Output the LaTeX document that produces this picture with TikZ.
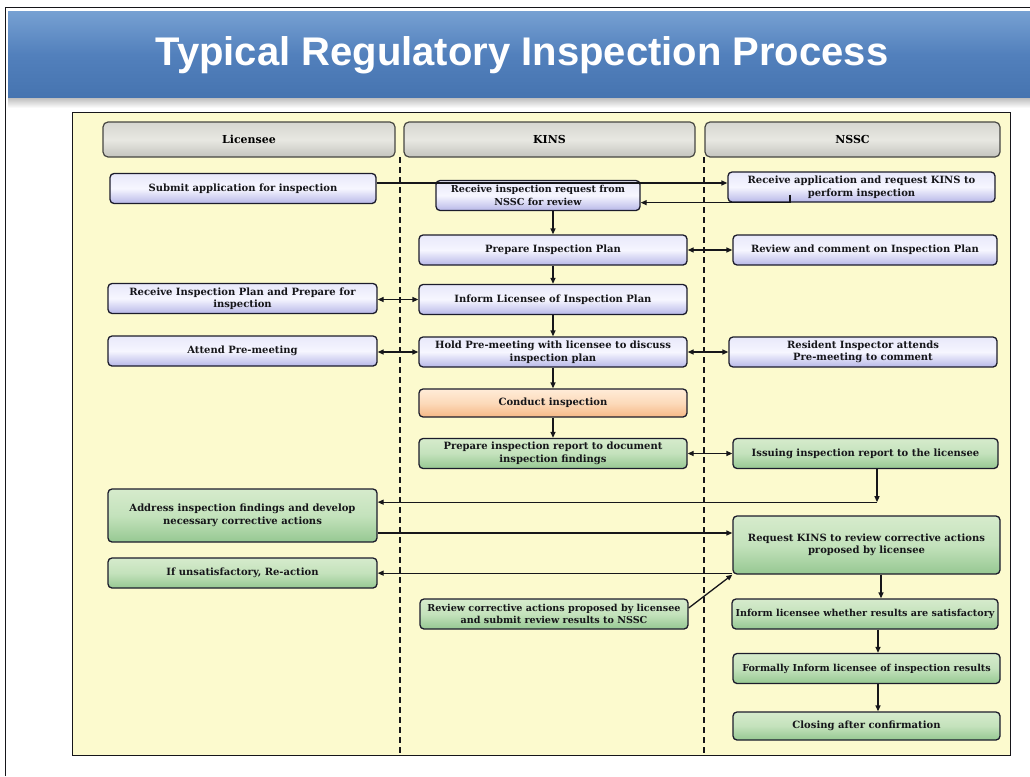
\documentclass[tikz,border=0pt]{standalone}
\usepackage{fontspec}
\setmainfont{DejaVu Serif}
\newfontfamily\titlefont{Liberation Sans}
\usetikzlibrary{arrows.meta}

\definecolor{barTop}{RGB}{118,160,210}
\definecolor{barMid}{RGB}{82,128,188}
\definecolor{barBot}{RGB}{70,116,176}
\definecolor{panel}{RGB}{252,250,206}
\definecolor{laneTop}{RGB}{214,214,208}
\definecolor{laneMid}{RGB}{232,232,226}
\definecolor{laneBot}{RGB}{196,196,190}
\definecolor{laneEdge}{RGB}{70,70,66}
\definecolor{boxEdge}{RGB}{28,28,44}
\definecolor{lavTop}{RGB}{232,232,250}
\definecolor{lavMid}{RGB}{246,246,255}
\definecolor{lavBot}{RGB}{184,184,232}
\definecolor{grnTop}{RGB}{214,235,204}
\definecolor{grnMid}{RGB}{196,226,188}
\definecolor{grnBot}{RGB}{150,200,146}
\definecolor{orgTop}{RGB}{255,236,216}
\definecolor{orgMid}{RGB}{252,218,186}
\definecolor{orgBot}{RGB}{246,184,134}
\definecolor{ink}{RGB}{22,22,26}

\begin{document}
\begin{tikzpicture}[x=1pt,y=-1pt,
  lane/.style={rounded corners=5pt, draw=laneEdge, line width=1.2pt,
    top color=laneTop, bottom color=laneBot, middle color=laneMid,
    minimum height=35pt, font=\bfseries\fontsize{11}{13}\selectfont},
  box/.style={rounded corners=4pt, draw=boxEdge, line width=1.3pt,
    align=center, inner sep=1pt, minimum height=30pt, text=ink,
    font=\bfseries\fontsize{10}{12.5}\selectfont},
  tight/.style={font=\bfseries\fontsize{9.6}{12.5}\selectfont},
  lav/.style={box, top color=lavTop, bottom color=lavBot, middle color=lavMid},
  grn/.style={box, top color=grnTop, bottom color=grnBot, middle color=grnMid},
  org/.style={box, top color=orgTop, bottom color=orgBot, middle color=orgMid},
  lanesep/.style={draw=ink, line width=1.1pt, dash pattern=on 6pt off 4pt},
  arr/.style={draw=ink, line width=1.3pt, -{Triangle[length=6pt,width=5pt]}},
  biarr/.style={draw=ink, line width=1.3pt,
    {Triangle[length=6pt,width=5pt]}-{Triangle[length=6pt,width=5pt]}},
]
\useasboundingbox (0,0) rectangle (1030,776);
\fill[white] (0,0) rectangle (1030,776);
\draw[ink, line width=1pt] (5,776) -- (5,8) -- (1030,8);

% title bar with a soft shadow below it
\shade[top color=gray!55, bottom color=white] (8,97) rectangle (1030,108);
\shade[top color=barTop, bottom color=barBot, middle color=barMid] (8,12) rectangle (1030,97);
\node[text=white, font=\titlefont\bfseries\fontsize{40}{44}\selectfont] (title) at (522,55)
  {Typical Regulatory Inspection Process};

% yellow panel
\draw[fill=panel, draw=ink, line width=1pt] (72,112) rectangle (1010,755);

% lane separators
\draw[lanesep] (400,157) -- (400,755);
\draw[lanesep] (704,157) -- (704,755);

% lane headers
\node[lane, minimum width=292pt] (h1) at (249,139.5) {Licensee};
\node[lane, minimum width=291pt] (h2) at (549.5,139.5) {KINS};
\node[lane, minimum width=295pt] (h3) at (852.5,139.5) {NSSC};

% process steps
\node[lav, minimum width=266pt] (b1) at (243,188.5) {Submit application for inspection};
\node[lav, minimum width=204pt, tight] (b2) at (538,195.5) {Receive inspection request from\\NSSC for review};
\node[lav, minimum width=267pt] (b3) at (861.5,187) {Receive application and request KINS to\\perform inspection};
\node[lav, minimum width=268pt] (b4) at (553,250) {Prepare Inspection Plan};
\node[lav, minimum width=264pt] (b5) at (865,250) {Review and comment on Inspection Plan};
\node[lav, minimum width=269pt] (b6) at (242.5,298.5) {Receive Inspection Plan and Prepare for\\inspection};
\node[lav, minimum width=268pt] (b7) at (553,299.5) {Inform Licensee of Inspection Plan};
\node[lav, minimum width=269pt] (b8) at (242.5,351) {Attend Pre-meeting};
\node[lav, minimum width=268pt] (b9) at (553,352) {Hold Pre-meeting with licensee to discuss\\inspection plan};
\node[lav, minimum width=268pt] (b10) at (863,352) {Resident Inspector attends\\Pre-meeting to comment};
\node[org, minimum width=268pt, minimum height=28pt] (b11) at (553,403) {Conduct inspection};
\node[grn, minimum width=268pt] (b12) at (553,453.5) {Prepare inspection report to document\\inspection findings};
\node[grn, minimum width=265pt] (b13) at (865.5,453.5) {Issuing inspection report to the licensee};
\node[grn, minimum width=269pt, minimum height=53pt] (b14) at (242.5,515.5) {Address inspection findings and develop\\necessary corrective actions};
\node[grn, minimum width=267pt, minimum height=58pt] (b15) at (866.5,545) {Request KINS to review corrective actions\\proposed by licensee};
\node[grn, minimum width=269pt] (b16) at (242.5,573) {If unsatisfactory, Re-action};
\node[grn, minimum width=268pt, tight] (b17) at (554,614) {Review corrective actions proposed by licensee\\and submit review results to NSSC};
\node[grn, minimum width=266pt, tight] (b18) at (865,614) {Inform licensee whether results are satisfactory};
\node[grn, minimum width=267pt, tight] (b19) at (866.5,668.5) {Formally Inform licensee of inspection results};
\node[grn, minimum width=267pt, minimum height=28pt] (b20) at (866.5,726) {Closing after confirmation};

% connectors
\coordinate (t1) at ([yshift=5.5pt]b1.east);
\draw[arr] (t1) -- (t1 -| b3.west);
\coordinate (t2) at ([xshift=-71.5pt]b3.south);
\draw[arr] (t2) ++(0,-8) -- (t2) -- (t2 -| b2.east);
\draw[arr] (b2.south -| b4.north) -- (b4.north);
\draw[biarr] (b4.east) -- (b5.west);
\draw[arr] (b4.south) -- (b7.north);
\draw[biarr] (b7.west) -- (b7.west -| b6.east);
\draw[arr] (b7.south) -- (b9.north);
\draw[biarr] (b9.west) -- (b9.west -| b8.east);
\draw[biarr] (b9.east) -- (b9.east -| b10.west);
\draw[arr] (b9.south) -- (b11.north);
\draw[arr] (b11.south) -- (b12.north);
\draw[biarr] (b12.east) -- (b13.west);

\coordinate (t3) at ([xshift=11.5pt]b13.south);
\coordinate (t4) at ([xshift=11.5pt,yshift=-33pt]b13.south);
\draw[arr] (t3) -- (t4);
\draw[arr] (t4) -- (t4 -| b14.east);

\coordinate (t5) at ([yshift=-17.5pt]b14.east);
\draw[arr] (t5) -- (t5 -| b15.west);
\coordinate (t6) at ([yshift=1.5pt]b15.south west);
\draw[arr] (t6) -- (t6 -| b16.east);
\draw[arr] ([yshift=6pt]b17.east) -- (b15.south west);

\draw[arr] ([xshift=14.5pt]b15.south) -- ([xshift=14.5pt]b15.south |- b18.north);
\draw[arr] ([xshift=13pt]b18.south) -- ([xshift=13pt]b18.south |- b19.north);
\draw[arr] ([xshift=11.5pt]b19.south) -- ([xshift=11.5pt]b19.south |- b20.north);
\end{tikzpicture}
\end{document}
